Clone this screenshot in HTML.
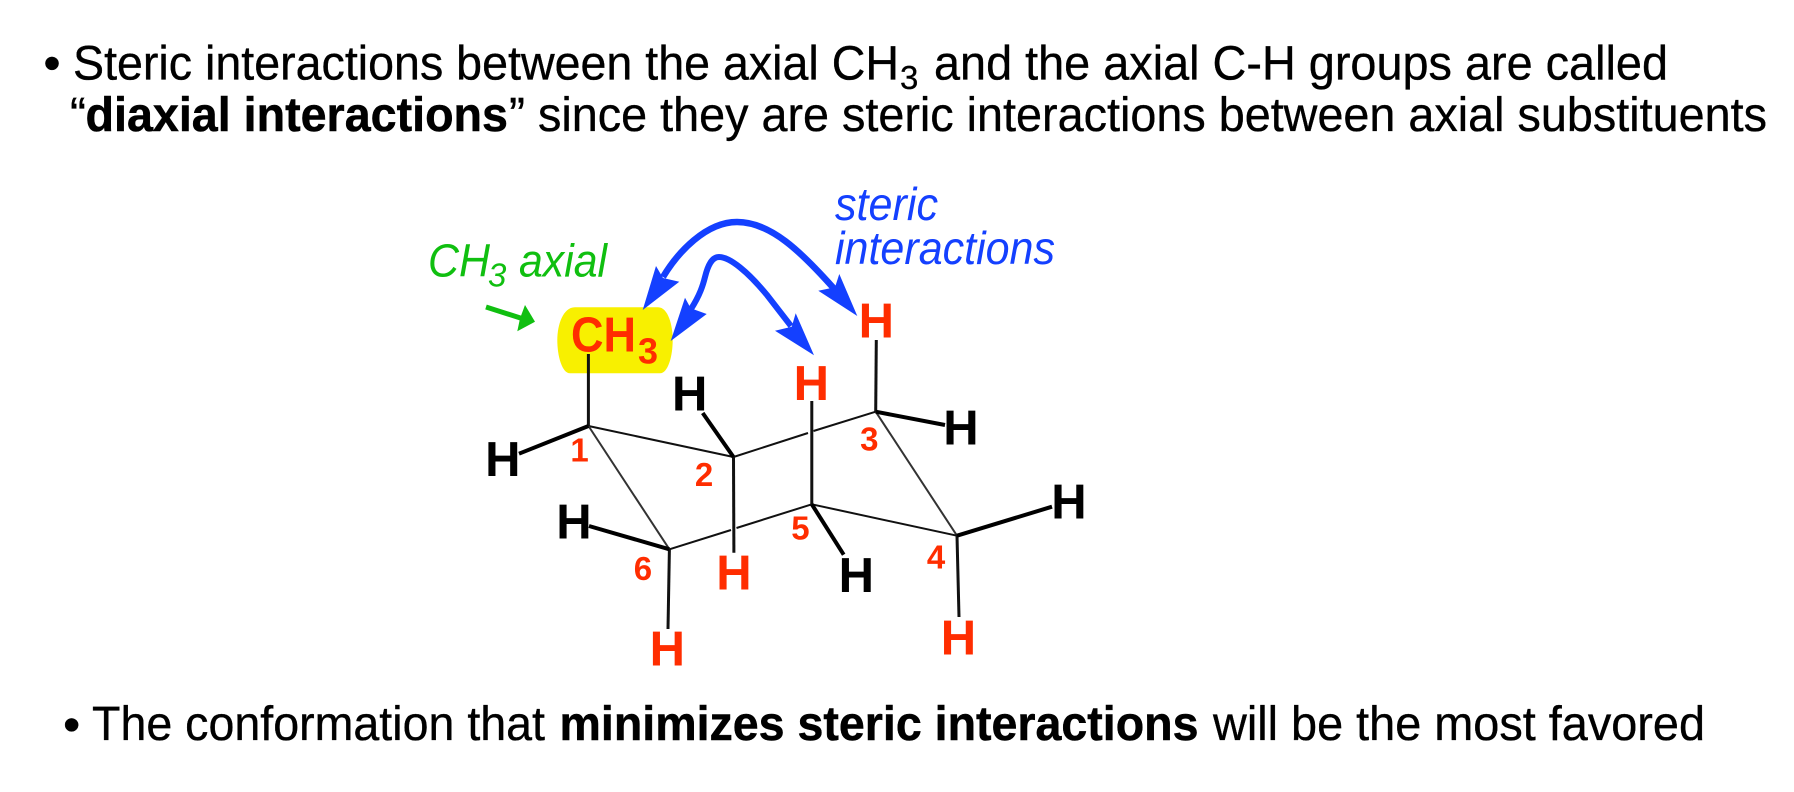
<!DOCTYPE html>
<html><head><meta charset="utf-8"><style>
html,body{margin:0;padding:0;background:#fff;width:1794px;height:792px;overflow:hidden}
svg{display:block}
text{font-family:"Liberation Sans",sans-serif}
.t{font-size:48.6px;fill:#000;stroke:#000;stroke-width:.35}
.b{font-weight:bold;stroke-width:.5}
.h{font-size:49px;font-weight:bold;text-anchor:middle}
.r{fill:#ff2d00}
.k{fill:#000}
.n{font-size:33px;font-weight:bold;fill:#ff2d00;text-anchor:middle}
.thin{stroke:#111;stroke-width:2;fill:none}
.ax{stroke:#111;stroke-width:3;fill:none}
.eq{stroke:#000;stroke-width:4;fill:none}
</style></head><body>
<svg width="1794" height="792" viewBox="0 0 1794 792" xmlns="http://www.w3.org/2000/svg">
<rect width="1794" height="792" fill="#fff"/>
<text class="t" x="52" y="79.3" text-anchor="middle">•</text>
<text class="t" x="73" y="79.3" textLength="826" lengthAdjust="spacingAndGlyphs">Steric interactions between the axial CH</text>
<text x="900" y="89" font-size="33" stroke="#000" stroke-width=".3">3</text>
<text class="t" x="934" y="79.3" textLength="734" lengthAdjust="spacingAndGlyphs">and the axial C-H groups are called</text>
<text class="t" x="70" y="131" textLength="16" lengthAdjust="spacingAndGlyphs">“</text>
<text class="t b" x="85.5" y="131" textLength="422.5" lengthAdjust="spacingAndGlyphs">diaxial interactions</text>
<text class="t" x="509" y="131" textLength="16" lengthAdjust="spacingAndGlyphs">”</text>
<text class="t" x="538" y="131" textLength="1229" lengthAdjust="spacingAndGlyphs">since they are steric interactions between axial substituents</text>
<text class="t" x="71.6" y="741" text-anchor="middle">•</text>
<text class="t" x="92" y="740" textLength="453" lengthAdjust="spacingAndGlyphs">The conformation that</text>
<text class="t b" x="559.5" y="740" textLength="639" lengthAdjust="spacingAndGlyphs">minimizes steric interactions</text>
<text class="t" x="1213" y="740" textLength="492" lengthAdjust="spacingAndGlyphs">will be the most favored</text>

<path d="M575 307.3H658C668 307.3 672.7 325 672.7 340C672.7 356 668 373.3 660 373.3H570C562 373.3 557.3 356 557.3 340C557.3 325 563 307.3 575 307.3Z" fill="#f8f000"/>

<g class="thin">
<path d="M588.5 426L733.5 457"/>
<path d="M733.5 457L808 433M813.5 431L875.7 411.7"/>
<path d="M875.7 411.7L957 535.7" stroke="#333"/>
<path d="M957 535.7L811.8 504.3"/>
<path d="M811.8 504.3L736.5 528M731 530L669.4 549.3"/>
<path d="M669.4 549.3L588.5 426" stroke="#333"/>
</g>
<g class="ax">
<path d="M588.4 426V354"/>
<path d="M875.7 411.7L876.3 340"/>
<path d="M811.8 504.3V401"/>
<path d="M733.5 457L733.9 552.7"/>
<path d="M957 535.7L959 617"/>
<path d="M669.4 549.3L668 629"/>
</g>
<g class="eq">
<path d="M588.5 426L519 453.7"/>
<path d="M733.5 457L702.7 413"/>
<path d="M875.7 411.7L945 425"/>
<path d="M957 535.7L1052 506.7"/>
<path d="M811.8 504.3L843.7 554.7"/>
<path d="M669.4 549.3L589 526"/>
</g>

<text class="h r" x="876.3" y="337.7">H</text>
<text class="h r" x="811.3" y="400">H</text>
<text class="h k" x="689.7" y="410.7">H</text>
<text class="h k" x="502.8" y="476">H</text>
<text class="h k" x="961" y="444.3">H</text>
<text class="h k" x="573.9" y="538.7">H</text>
<text class="h r" x="733.9" y="589.5">H</text>
<text class="h k" x="856.3" y="592">H</text>
<text class="h k" x="1069" y="518.7">H</text>
<text class="h r" x="667.3" y="665.3">H</text>
<text class="h r" x="958.4" y="654.3">H</text>

<text x="571" y="351.7" font-size="49" font-weight="bold" fill="#ff2d00" textLength="65" lengthAdjust="spacingAndGlyphs">CH</text>
<text x="638" y="363.3" font-size="36" font-weight="bold" fill="#ff2d00">3</text>

<text class="n" x="579.6" y="461.5">1</text>
<text class="n" x="704" y="486">2</text>
<text class="n" x="869.3" y="450.7">3</text>
<text class="n" x="936" y="568.7">4</text>
<text class="n" x="800.4" y="539.3">5</text>
<text class="n" x="642.9" y="580">6</text>

<text x="428" y="276.7" font-size="46" font-style="italic" fill="#10bf10" textLength="62" lengthAdjust="spacingAndGlyphs">CH</text>
<text x="488" y="286.7" font-size="33" font-style="italic" fill="#10bf10">3</text>
<text x="519" y="276.7" font-size="46" font-style="italic" fill="#10bf10" textLength="88" lengthAdjust="spacingAndGlyphs">axial</text>
<path d="M486 307L522 318.5" stroke="#10bf10" stroke-width="5" fill="none"/>
<path d="M535 321.7L525 305L520 318.5L517.3 331.3Z" fill="#10bf10"/>

<text x="835" y="220" font-size="46" font-style="italic" fill="#1440ff" textLength="103" lengthAdjust="spacingAndGlyphs">steric</text>
<text x="835" y="264" font-size="46" font-style="italic" fill="#1440ff" textLength="220" lengthAdjust="spacingAndGlyphs">interactions</text>

<g fill="none" stroke="#1440ff" stroke-width="6.5">
<path d="M663 277C678 252 706 222 737 222C770 222 800 250 837 292"/>
<path d="M691 309C700 295 703 285 705 277C708 265 712 257 719 257C730 257 748 272 767 295L791 326" stroke-width="6"/>
</g>
<g fill="#1440ff">
<path d="M642.7 310L656 266L663 278L679.3 281.7Z"/>
<path d="M857.3 316L839.3 274L835 287.3L818.3 290.7Z"/>
<path d="M670.7 341L685 297.7L690.7 308.3L706.7 314Z"/>
<path d="M814 355.3L795.7 313.3L791.7 326.7L775 330.7Z"/>
</g>
</svg>
</body></html>
